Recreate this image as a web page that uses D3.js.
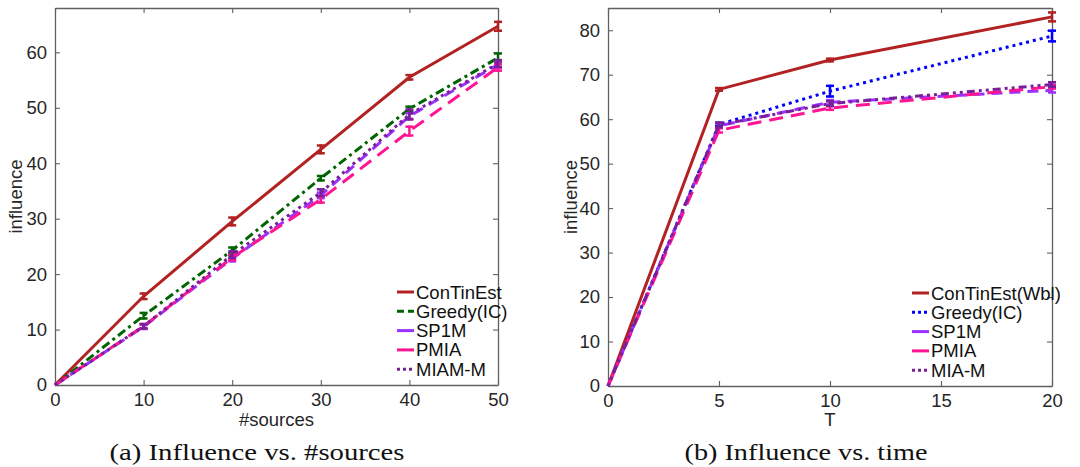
<!DOCTYPE html>
<html><head><meta charset="utf-8">
<script src="https://cdn.jsdelivr.net/npm/d3@7"></script>
<style>body{margin:0;background:#fff}svg{display:block}</style>
</head><body>
<svg id="c" width="1080" height="467"></svg>
<script>
// ---- data ----
const srcX = [0, 10, 20, 30, 40, 50];
const srcNames = ["ConTinEst", "Greedy(IC)", "SP1M", "PMIA", "MIAM-M"];
const srcContinest = [0, 16.0, 29.5, 42.5, 55.5, 64.7];
const srcGreedy    = [0, 12.5, 24.3, 37.3, 49.8, 59.0];
const srcSP1M      = [0, 10.5, 22.8, 34.2, 48.5, 57.8];
const srcPMIA      = [0, 10.6, 23.0, 33.5, 45.8, 57.3];
const srcMIAM      = [0, 10.6, 23.5, 34.7, 48.8, 58.0];
const srcErrContinest = [0, 0.5, 0.7, 0.7, 0.4, 0.8];
const srcErrGreedy    = [0, 0.5, 0.5, 0.4, 0.4, 0.8];
const srcErrSP1M      = [0, 0.4, 0.5, 0.5, 0.5, 0.6];
const srcErrPMIA      = [0, 0.4, 0.5, 0.6, 0.8, 0.6];
const srcErrMIAM      = [0, 0.4, 0.6, 0.6, 0.9, 0.6];
const srcXTicks = [0, 10, 20, 30, 40, 50];
const srcYTicks = [0, 10, 20, 30, 40, 50, 60];

const timeX = [0, 5, 10, 20];
const timeNames = ["ConTinEst(Wbl)", "Greedy(IC)", "SP1M", "PMIA", "MIA-M"];
const timeContinest = [0, 66.7, 73.3, 83.0];
const timeGreedy    = [0, 58.8, 66.3, 78.7];
const timeSP1M      = [0, 58.5, 63.8, 66.5];
const timePMIA      = [0, 57.5, 62.5, 67.3];
const timeMIA       = [0, 58.7, 63.5, 67.8];
const timeErrContinest = [0, 0.3, 0.3, 1.0];
const timeErrGreedy    = [0, 0.4, 1.2, 1.2];
const timeErrSP1M      = [0, 0.5, 0.5, 0.5];
const timeErrPMIA      = [0, 0.5, 0.4, 0.4];
const timeErrMIA       = [0, 0.5, 0.5, 0.5];
const timeXTicks = [0, 5, 10, 15, 20];
const timeYTicks = [0, 10, 20, 30, 40, 50, 60, 70, 80];

// ---- styles ----
const C_RED = "#b22222", C_GREEN = "#006400", C_BLUE = "#0000ff",
      C_SP = "#9b30ff", C_PM = "#ff1493", C_MIA = "#7a1f9a";

const svg = d3.select("#c");
const FONT = "'Liberation Sans', Arial, Helvetica, sans-serif";
const FS = "18.5px";

function panel(cfg) {
  const g = svg.append("g");
  const x = d3.scaleLinear().domain(cfg.xDomain).range([cfg.left, cfg.right]);
  const y = d3.scaleLinear().domain(cfg.yDomain).range([cfg.bottom, cfg.top]);

  // axes (ticks inward, box)
  const axCol = "#606060";
  const bottomAx = g.append("g").attr("transform", `translate(0,${cfg.bottom})`)
    .call(d3.axisBottom(x).tickValues(cfg.xTicks).tickSizeInner(-5).tickSizeOuter(0).tickPadding(8));
  const topAx = g.append("g").attr("transform", `translate(0,${cfg.top})`)
    .call(d3.axisTop(x).tickValues(cfg.xTicks).tickSizeInner(-5).tickSizeOuter(0).tickFormat(""));
  const leftAx = g.append("g").attr("transform", `translate(${cfg.left},0)`)
    .call(d3.axisLeft(y).tickValues(cfg.yTicks).tickSizeInner(-5).tickSizeOuter(0).tickPadding(8));
  const rightAx = g.append("g").attr("transform", `translate(${cfg.right},0)`)
    .call(d3.axisRight(y).tickValues(cfg.yTicks).tickSizeInner(-5).tickSizeOuter(0).tickFormat(""));
  [bottomAx, topAx, leftAx, rightAx].forEach(a => {
    a.selectAll("path.domain").attr("stroke", axCol).attr("stroke-width", 1.3);
    a.selectAll(".tick line").attr("stroke", axCol).attr("stroke-width", 1.1);
    a.selectAll("text").attr("fill", "#262626").style("font-family", FONT).style("font-size", FS);
  });

  // series
  cfg.series.forEach(s => {
    const pts = cfg.xs.map((xv, i) => ({x: xv, y: s.values[i], e: s.err[i]}));
    const line = d3.line().x(d => x(d.x)).y(d => y(d.y));
    g.append("path").datum(pts).attr("d", line)
      .attr("fill", "none").attr("stroke", s.color).attr("stroke-width", 3)
      .attr("stroke-dasharray", s.dash || null)
      .attr("stroke-linecap", "butt");
    // error bars
    const eb = g.append("g").attr("stroke", s.color).attr("stroke-width", 2.5).attr("fill", "none");
    pts.filter(d => d.x > 0).forEach(d => {
      const cx = x(d.x), y1 = y(d.y + d.e), y2 = y(d.y - d.e);
      eb.append("line").attr("x1", cx).attr("x2", cx).attr("y1", y1 - 1).attr("y2", y2 + 1);
      eb.append("line").attr("x1", cx - 4).attr("x2", cx + 4).attr("y1", y1).attr("y2", y1);
      eb.append("line").attr("x1", cx - 4).attr("x2", cx + 4).attr("y1", y2).attr("y2", y2);
    });
  });

  // axis labels
  g.append("text").attr("x", (cfg.left + cfg.right) / 2).attr("y", 426)
    .attr("text-anchor", "middle").style("font-family", FONT).style("font-size", FS)
    .attr("fill", "#262626").text(cfg.xLabel);
  g.append("text").attr("transform", `translate(${cfg.left - cfg.yLabOff},${(cfg.top + cfg.bottom) / 2}) rotate(-90)`)
    .attr("text-anchor", "middle").style("font-family", FONT).style("font-size", FS)
    .attr("fill", "#262626").text("influence");

  // legend
  const lg = g.append("g");
  cfg.series.forEach((s, i) => {
    const yy = cfg.legY + i * 19.3;
    lg.append("line").attr("x1", cfg.legX).attr("x2", cfg.legX + 17).attr("y1", yy).attr("y2", yy)
      .attr("stroke", s.color).attr("stroke-width", 3)
      .attr("stroke-dasharray", s.legDash || null);
    lg.append("text").attr("x", cfg.legX + 19).attr("y", yy + 6.5)
      .style("font-family", FONT).style("font-size", FS).attr("fill", "#111").text(s.name);
  });

  // caption
  g.append("text").attr("x", cfg.capX).attr("y", 460).attr("text-anchor", "middle")
    .style("font-family", "'Liberation Serif','Times New Roman',serif")
    .style("font-size", "24px").attr("fill", "#111")
    .attr("textLength", cfg.capW).attr("lengthAdjust", "spacingAndGlyphs")
    .text(cfg.caption);
}

panel({
  left: 55, right: 498, top: 8, bottom: 385,
  xDomain: [0, 50], yDomain: [0, 68],
  xTicks: srcXTicks, yTicks: srcYTicks, xs: srcX,
  xLabel: "#sources", caption: "(a) Influence vs. #sources", capX: 257, capW: 295,
  legX: 397, legY: 292, yLabOff: 33,
  series: [
    {name: srcNames[0], values: srcContinest, err: srcErrContinest, color: C_RED},
    {name: srcNames[1], values: srcGreedy, err: srcErrGreedy, color: C_GREEN, dash: "9,4,3,4", legDash: "7,4"},
    {name: srcNames[2], values: srcSP1M, err: srcErrSP1M, color: C_SP, dash: "11,7"},
    {name: srcNames[3], values: srcPMIA, err: srcErrPMIA, color: C_PM, dash: "14,8"},
    {name: srcNames[4], values: srcMIAM, err: srcErrMIAM, color: C_MIA, dash: "3,4", legDash: "3,3"}
  ]
});

panel({
  left: 608, right: 1052, top: 8, bottom: 386,
  xDomain: [0, 20], yDomain: [0, 85],
  xTicks: timeXTicks, yTicks: timeYTicks, xs: timeX,
  xLabel: "T", caption: "(b) Influence vs. time", capX: 806, capW: 243,
  legX: 912, legY: 293, yLabOff: 31,
  series: [
    {name: timeNames[0], values: timeContinest, err: timeErrContinest, color: C_RED},
    {name: timeNames[1], values: timeGreedy, err: timeErrGreedy, color: C_BLUE, dash: "3,4", legDash: "3,3"},
    {name: timeNames[2], values: timeSP1M, err: timeErrSP1M, color: C_SP, dash: "11,7"},
    {name: timeNames[3], values: timePMIA, err: timeErrPMIA, color: C_PM, dash: "14,8"},
    {name: timeNames[4], values: timeMIA, err: timeErrMIA, color: C_MIA, dash: "3,4,3,4,8,4", legDash: "3,3"}
  ]
});
</script>
</body></html>
